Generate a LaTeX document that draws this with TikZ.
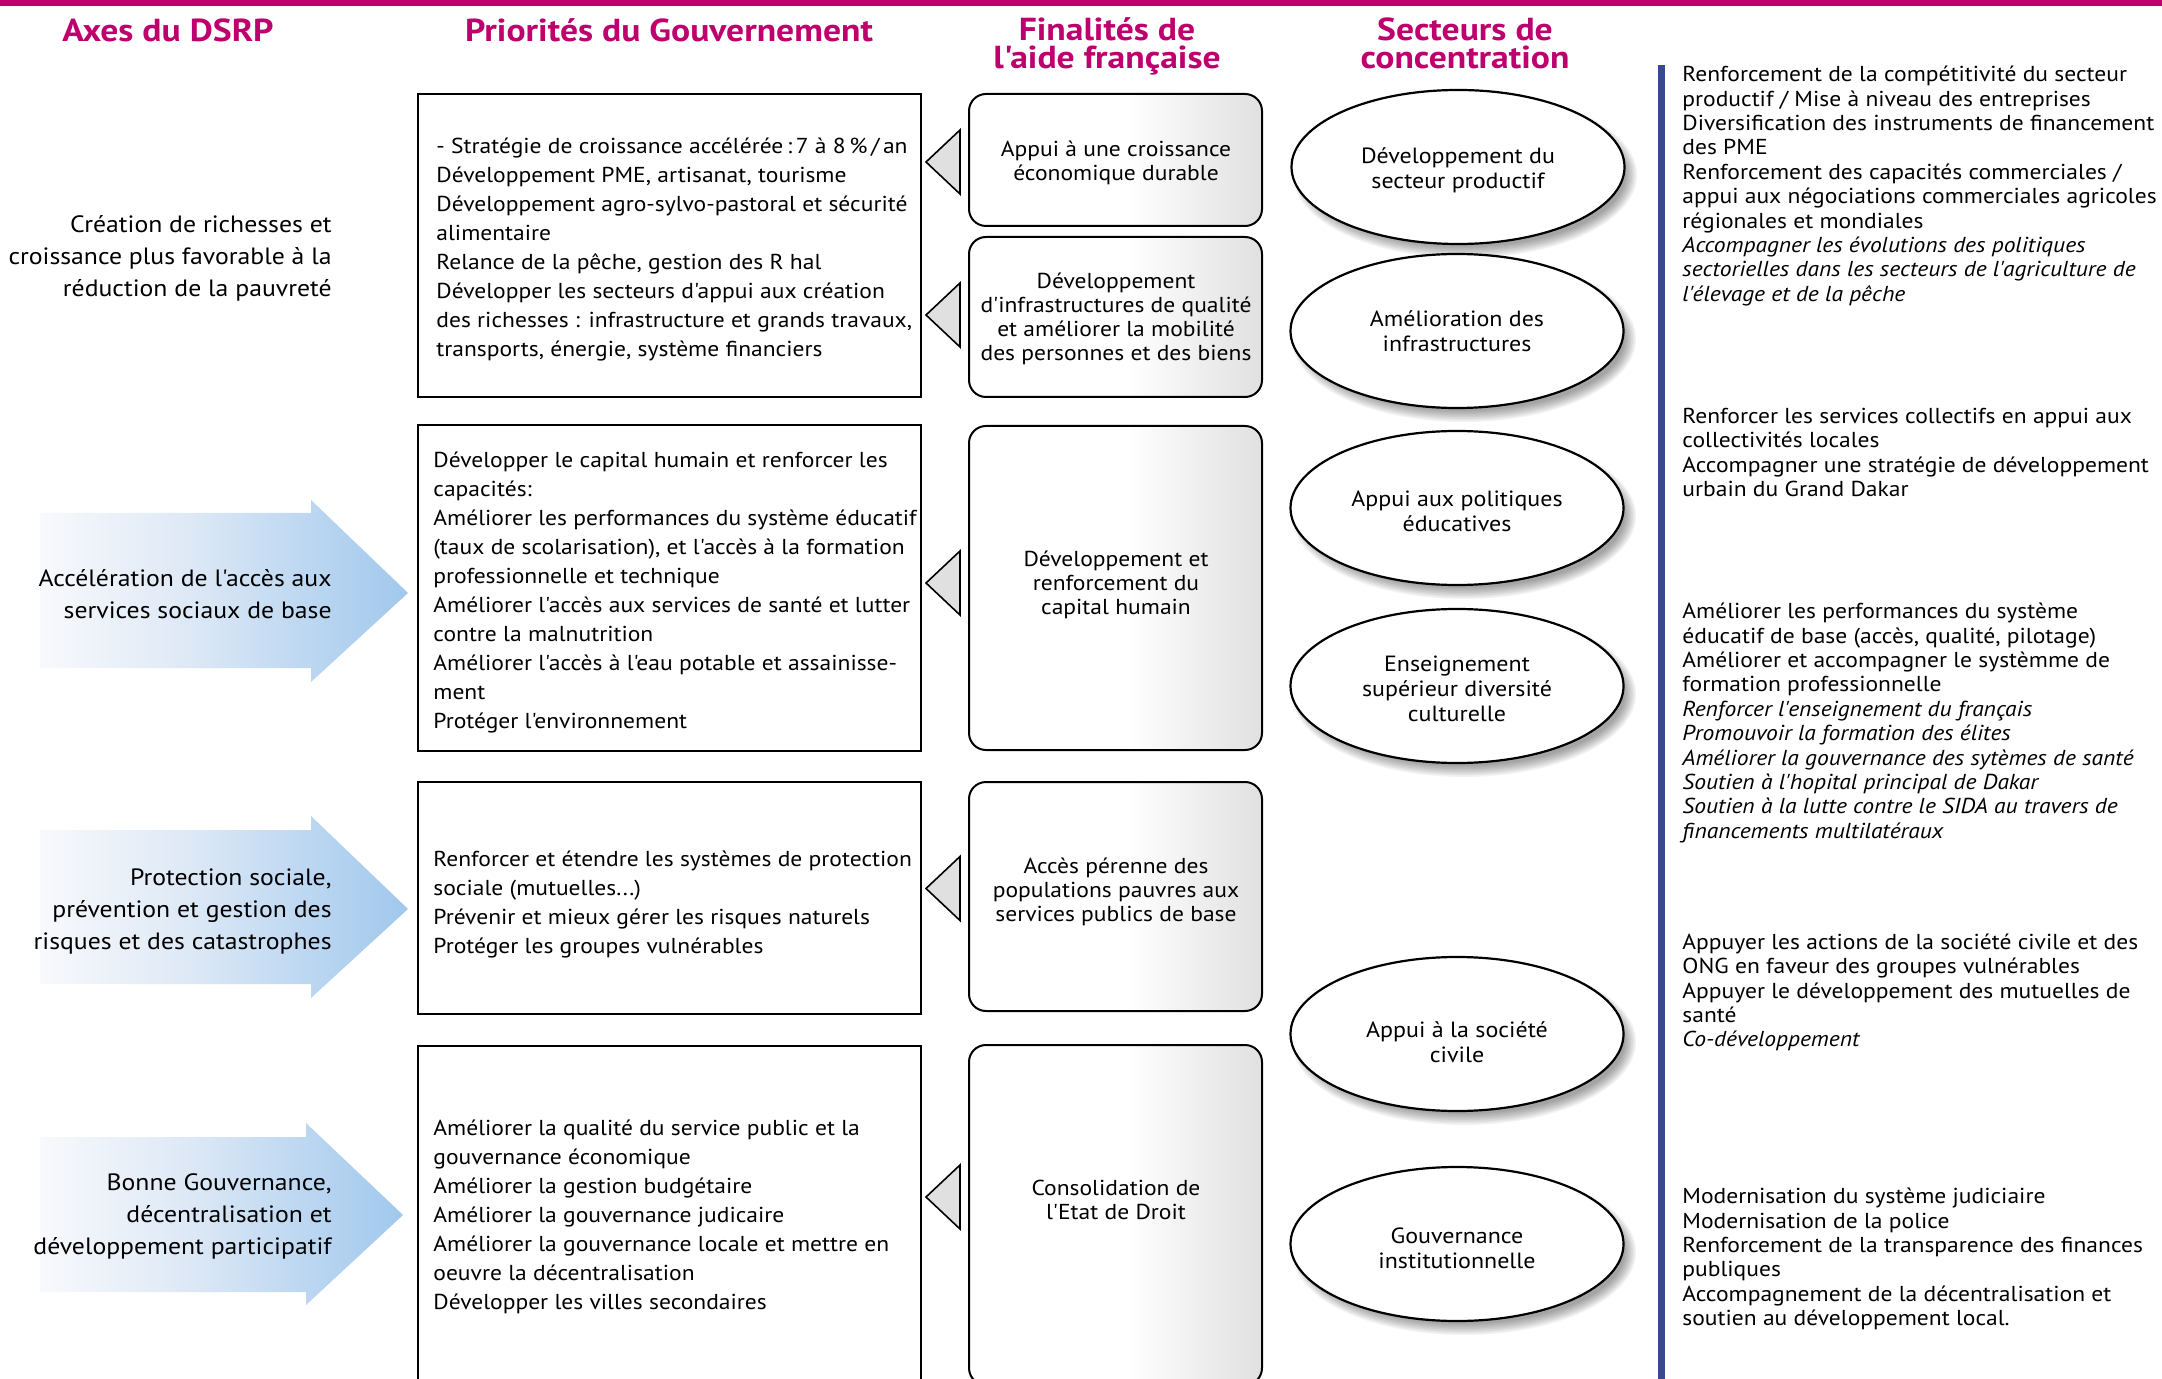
\documentclass[tikz,border=0pt]{standalone}
\usepackage{fontspec}
\setmainfont{PT Sans}[FakeStretch=1.09]
\newfontfamily\bodyfont{PT Sans}[FakeStretch=1.09]
\newfontfamily\headfont{PT Sans}[FakeStretch=1.12]
\usetikzlibrary{calc,shapes.geometric}
\definecolor{mag}{RGB}{190,0,110}
\definecolor{barblue}{RGB}{58,70,150}
\definecolor{arrblue}{RGB}{160,200,237}
\definecolor{arrmid}{RGB}{222,233,246}
\definecolor{arrwhite}{RGB}{248,249,252}
\pgfdeclarehorizontalshading{fshade}{100bp}{color(0bp)=(white); color(25bp)=(white); color(52bp)=(white); color(75bp)=(black!12); color(100bp)=(black!12)}
\pgfdeclarehorizontalshading{ashade}{100bp}{color(0bp)=(arrwhite); color(25bp)=(arrwhite); color(45bp)=(arrmid); color(75bp)=(arrblue); color(100bp)=(arrblue)}
\newcommand\ellnode[5]{%
  \foreach \k in {0,...,7}{
    \fill[black,opacity=0.05] ({#2+7},{#3+8}) ellipse [x radius={(172-1.6*\k)*0.5pt}, y radius={(83-1.6*\k)*0.5pt}];
  }
  \node[secteur] (#1) at (#2,#3) {};
  \node[secttxt] (#1t) at (#2,{#3+#4}) {#5};
}
\newcommand\trimark[2]{%
  \draw[tri] ($(#1.west)+(-8,{#2-32})$) -- ($(#1.west)+(-42,#2)$) -- ($(#1.west)+(-8,{#2+32})$) -- cycle;
}
\begin{document}
\begin{tikzpicture}[x=0.5pt,y=-0.5pt,
  head/.style={text=mag,font=\headfont\bfseries\fontsize{15.9}{14}\selectfont,align=center,inner sep=0pt,anchor=north},
  axistxt/.style={anchor=east,align=right,inner sep=0pt,font=\bodyfont\fontsize{11.8}{16}\selectfont},
  govbox/.style={draw=black,line width=1.25pt,fill=white,minimum width=251.5pt,inner sep=0pt},
  govtxt/.style={anchor=west,align=left,inner sep=0pt,font=\bodyfont\fontsize{10.8}{14.5}\selectfont},
  finbox/.style={draw=black,line width=1pt,rounded corners=8.5pt,shade,shading=fshade,minimum width=146.5pt,inner sep=0pt},
  fintxt/.style={align=center,inner sep=0pt,font=\bodyfont\fontsize{10.8}{12}\selectfont},
  secteur/.style={ellipse,draw=black,line width=1.1pt,fill=white,minimum width=166.5pt,minimum height=77pt,inner sep=0pt},
  secttxt/.style={align=center,inner sep=0pt,font=\bodyfont\fontsize{11}{12.5}\selectfont},
  righttxt/.style={anchor=west,align=left,inner sep=0pt,font=\bodyfont\fontsize{10.8}{12.2}\selectfont},
  tri/.style={draw=black,line width=0.8pt,fill=black!12,line join=miter},
  axisarrow/.style={shade,shading=ashade,draw=none}
]
\useasboundingbox (0,0) rectangle (2162,1379);
\clip (0,0) rectangle (2162,1379);
\fill[white] (0,0) rectangle (2162,1379);
\fill[mag] (0,0) rectangle (2162,6);

% headings
\node[head] (h1) at (168,18) {Axes du DSRP};
\node[head] (h2) at (669,18) {Priorités du Gouvernement};
\node[head] (h3) at (1107,17) {Finalités de\\l'aide française};
\node[head] (h4) at (1465,17) {Secteurs de\\concentration};

% axis arrows
\path[axisarrow] (40,513) -- (311,513) -- (311,500) -- (408,593) -- (311,682) -- (311,668) -- (40,668) -- cycle;
\path[axisarrow] (40,830) -- (311,830) -- (311,816) -- (408,909) -- (311,998) -- (311,984) -- (40,984) -- cycle;
\path[axisarrow] (40,1137) -- (306,1137) -- (306,1123) -- (403,1215) -- (306,1305) -- (306,1292) -- (40,1292) -- cycle;

% axis texts
\node[axistxt] (a1) at (332,258) {Création de richesses et\\croissance plus favorable à la\\réduction de la pauvreté};
\node[axistxt] (a2) at (332,594) {Accélération de l'accès aux\\services sociaux de base};
\node[axistxt] (a3) at (332,911) {Protection sociale,\\prévention et gestion des\\risques et des catastrophes};
\node[axistxt] (a4) at (332,1216) {Bonne Gouvernance,\\décentralisation et\\développement participatif};

% government boxes
\node[govbox,minimum height=151.5pt] (g1) at (669.5,245.5) {};
\node[govbox,minimum height=163pt] (g2) at (669.5,588) {};
\node[govbox,minimum height=116pt] (g3) at (669.5,898) {};
\node[govbox,minimum height=169.5pt] (g4) at (669.5,1215.5) {};

\node[govtxt] (g1t) at (436,250) {- Stratégie de croissance accélérée\,:\,7 à 8\,\%\,/\,an\\Développement PME, artisanat, tourisme\\Développement agro-sylvo-pastoral et sécurité\\alimentaire\\Relance de la pêche, gestion des R hal\\Développer les secteurs d'appui aux création\\des richesses : infrastructure et grands travaux,\\transports, énergie, système financiers};
\node[govtxt] (g2t) at (433,593) {Développer le capital humain et renforcer les\\capacités:\\Améliorer les performances du système éducatif\\(taux de scolarisation), et l'accès à la formation\\professionnelle et technique\\Améliorer l'accès aux services de santé et lutter\\contre la malnutrition\\Améliorer l'accès à l'eau potable et assainisse-\\ment\\Protéger l'environnement};
\node[govtxt] (g3t) at (433,905) {Renforcer et étendre les systèmes de protection\\sociale (mutuelles...)\\Prévenir et mieux gérer les risques naturels\\Protéger les groupes vulnérables};
\node[govtxt] (g4t) at (433,1217) {Améliorer la qualité du service public et la\\gouvernance économique\\Améliorer la gestion budgétaire\\Améliorer la gouvernance judicaire\\Améliorer la gouvernance locale et mettre en\\oeuvre la décentralisation\\Développer les villes secondaires};

% finalites boxes
\node[finbox,minimum height=66pt] (f1) at (1115.5,160) {};
\node[finbox,minimum height=80pt] (f2) at (1115.5,317) {};
\node[finbox,minimum height=162pt] (f3) at (1115.5,588) {};
\node[finbox,minimum height=114.5pt] (f4) at (1115.5,896.5) {};
\node[finbox,minimum height=170pt] (f5) at (1115.5,1215) {};

\node[fintxt] (f1t) at (1116,163) {Appui à une croissance\\économique durable};
\node[fintxt] (f2t) at (1116,319) {Développement\\d'infrastructures de qualité\\et améliorer la mobilité\\des personnes et des biens};
\node[fintxt] (f3t) at (1116,585) {Développement et\\renforcement du\\capital humain};
\node[fintxt] (f4t) at (1116,892) {Accès pérenne des\\populations pauvres aux\\services publics de base};
\node[fintxt] (f5t) at (1116,1200) {Consolidation de\\l'Etat de Droit};

\trimark{f1}{2}
\trimark{f2}{-2}
\trimark{f3}{-5}
\trimark{f4}{-8}
\trimark{f5}{-18}

% secteurs
\ellnode{e1}{1458}{167}{3}{Développement du\\secteur productif}
\ellnode{e2}{1457}{331}{0}{Amélioration des\\infrastructures}
\ellnode{e3}{1457}{508}{3}{Appui aux politiques\\éducatives}
\ellnode{e4}{1457}{686}{3}{Enseignement\\supérieur diversité\\culturelle}
\ellnode{e5}{1457}{1034}{8}{Appui à la société\\civile}
\ellnode{e6}{1457}{1244}{4}{Gouvernance\\institutionnelle}

% blue bar
\fill[barblue] (1658,65) rectangle (1665,1390);

% right texts
\node[righttxt] (r1) at (1682,186) {Renforcement de la compétitivité du secteur\\productif / Mise à niveau des entreprises\\Diversification des instruments de financement\\des PME\\Renforcement des capacités commerciales /\\appui aux négociations commerciales agricoles\\régionales et mondiales\\\textit{Accompagner les évolutions des politiques}\\\textit{sectorielles dans les secteurs de l'agriculture de}\\\textit{l'élevage et de la pêche}};
\node[righttxt] (r2) at (1682,452.5) {Renforcer les services collectifs en appui aux\\collectivités locales\\Accompagner une stratégie de développement\\urbain du Grand Dakar};
\node[righttxt] (r3) at (1682,723) {Améliorer les performances du système\\éducatif de base (accès, qualité, pilotage)\\Améliorer et accompagner le systèmme de\\formation professionnelle\\\textit{Renforcer l'enseignement du français}\\\textit{Promouvoir la formation des élites}\\\textit{Améliorer la gouvernance des sytèmes de santé}\\\textit{Soutien à l'hopital principal de Dakar}\\\textit{Soutien à la lutte contre le SIDA au travers de}\\\textit{financements multilatéraux}};
\node[righttxt] (r4) at (1682,992.5) {Appuyer les actions de la société civile et des\\ONG en faveur des groupes vulnérables\\Appuyer le développement des mutuelles de\\santé\\\textit{Co-développement}};
\node[righttxt] (r5) at (1682,1259) {Modernisation du système judiciaire\\Modernisation de la police\\Renforcement de la transparence des finances\\publiques\\Accompagnement de la décentralisation et\\soutien au développement local.};
\end{tikzpicture}
\end{document}
